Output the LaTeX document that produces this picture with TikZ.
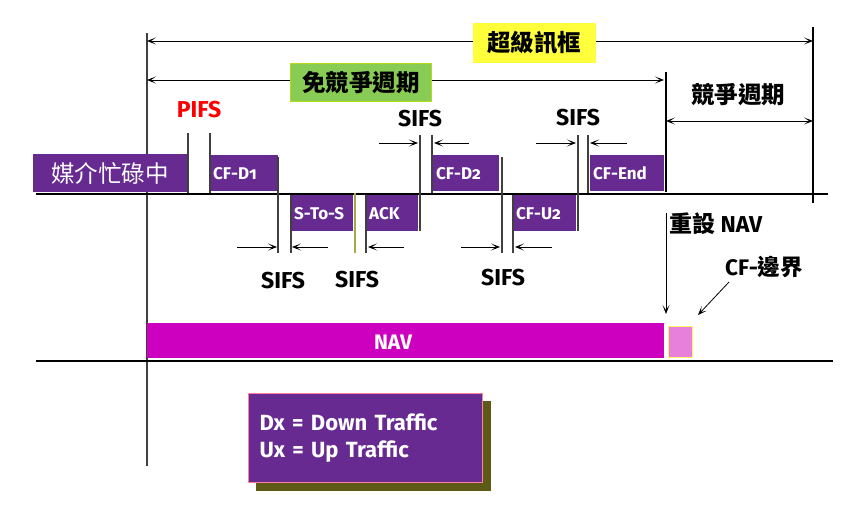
\documentclass[tikz,border=0pt]{standalone}
\usepackage{fontspec}
\setmainfont{Fira Sans}[Numbers=OldStyle]
\newfontfamily\cjk{Noto Sans CJK TC}
\usetikzlibrary{arrows.meta,positioning}
\definecolor{pkt}{RGB}{102,42,145}
\definecolor{nav}{RGB}{204,0,190}
\definecolor{cfb}{RGB}{230,128,218}
\definecolor{sfy}{RGB}{255,255,60}
\definecolor{cfg}{RGB}{136,204,85}
\definecolor{olv}{RGB}{168,168,72}
\definecolor{shd}{RGB}{92,90,22}
\definecolor{lgb}{RGB}{255,128,160}

\begin{document}
\begin{tikzpicture}[x=1pt,y=-1pt,>={Stealth[length=9pt,width=7pt,inset=5pt]},
  axis/.style={draw=black!75,line width=1.2pt},
  base/.style={draw=black,line width=1.4pt},
  gap/.style={->,line width=0.8pt},
  pkt/.style={fill=pkt,text=white,font=\bfseries\fontsize{17}{17}\selectfont,
    inner xsep=3pt,inner ysep=0pt,minimum height=36pt,anchor=north west,align=left},
  ifs/.style={font=\bfseries\fontsize{23}{23}\selectfont},
  zh/.style={font=\cjk\bfseries\fontsize{23.5}{23.5}\selectfont}]
\useasboundingbox (0,0) rectangle (863,524);

% main axes
\coordinate (o) at (147,33);   \coordinate (ob) at (147,466);
\coordinate (e) at (813,27);   \coordinate (eb) at (813,203);
\coordinate (c) at (666,72);   \coordinate (cb) at (666,192);
\coordinate (l) at (36,194);   \coordinate (r) at (828,194);
\coordinate (nl) at (36,361);  \coordinate (nr) at (833,361);
\draw[axis] (o) -- (ob);
\draw[axis,black] (e) -- (eb);
\draw[axis,black] (c) -- (cb);
\draw[base] (l) -- (r);
\draw[base] (nl) -- (nr);

% periods
\coordinate (sfa) at (147,41);  \coordinate (sfb) at (813,41);
\coordinate (cfa) at (147,80);  \coordinate (cfb) at (664,80);
\coordinate (cpa) at (666,121); \coordinate (cpb) at (813,121);
\draw[<->,line width=0.9pt] (sfa) -- (sfb);
\draw[<->,line width=0.9pt] (cfa) -- (cfb);
\draw[<->,line width=0.9pt] (cpa) -- (cpb);
\node[zh,fill=sfy,minimum width=123pt,minimum height=40pt] (sf) at (534,43) {超級訊框};
\node[zh,fill=cfg,draw=yellow!70!green,line width=1pt,minimum width=141pt,minimum height=38pt] (cfp) at (361,83) {免競爭週期};
\node[zh] (cp) at (738,95) {競爭週期};

% medium busy
\node[fill=pkt,text=white,font=\cjk\fontsize{23.5}{23.5}\selectfont,minimum width=154pt,
  minimum height=38pt,anchor=north west] (busy) at (33,154) {媒介忙碌中};

% frames
\foreach \n/\x/\y/\w/\t in {d1/210/155/62/CF-D1,d2/433/155/60/CF-D2,end/590/155/68/CF-End,
  sts/291/195/56/S-To-S,ack/366/195/46/ACK,u2/513/195/57/CF-U2}
  \node[pkt,text width=\w pt] (\n) at (\x,\y) {\t};

% interframe space ticks
\foreach \x/\a/\b in {188/133/193,210/133/193,278/157/253,291/195/253,366/195/253,
  420/135/231,432/135/193,502/157/253,513/195/253,578/135/231,588/135/193}
{
  \coordinate (t\x) at (\x,\a);
  \coordinate (b\x) at (\x,\b);
  \draw[axis] (t\x) -- (b\x);
}
\coordinate (t355) at (355,193); \coordinate (b355) at (355,253);
\draw[olv,line width=1.4pt] (t355) -- (b355);

\foreach \a/\b/\y [count=\i] in {237/277/247,328/292/247,404/368/247,461/500/247,552/515/247,
  379/418/143,469/434/143,536/576/143,627/590/143}
{
  \coordinate (s\i) at (\a,\y);
  \coordinate (f\i) at (\b,\y);
  \draw[gap] (s\i) -- (f\i);
}

\node[ifs,text=red] (pifs) at (199,110) {PIFS};
\foreach \n/\x/\y in {a/283/281,b/357/280,c/503/278,d/420/119,e/578/118}
  \node[ifs] (sifs\n) at (\x,\y) {SIFS};

% NAV
\node[fill=nav,minimum width=517pt,minimum height=35pt,inner sep=0pt,anchor=north west] (nav) at (147,323) {};
\node[text=white,font=\bfseries\fontsize{21}{21}\selectfont] (navt) at (393,342) {NAV};
\node[fill=cfb,draw=yellow!60,line width=1pt,minimum width=24pt,minimum height=31pt,
  inner sep=0pt,anchor=north west] (bnd) at (668,326) {};

\node[font=\bfseries\fontsize{23}{23}\selectfont,anchor=west,inner sep=0pt] (reset) at (669,224) {{\cjk 重設} NAV};
\coordinate (ra) at (666,213); \coordinate (rb) at (666,314);
\draw[->,line width=0.8pt] (ra) -- (rb);

\node[font=\bfseries\fontsize{22.5}{22.5}\selectfont] (edge) at (764,267) {CF-{\cjk 邊界}};
\coordinate (ea) at (729,282); \coordinate (eb2) at (698,315);
\draw[->,line width=0.8pt] (ea) -- (eb2);

% legend
\node[fill=shd,minimum width=235pt,minimum height=90pt,anchor=north west] (shadow) at (256,401) {};
\node[fill=pkt,draw=lgb,line width=1pt,text=white,font=\bfseries\fontsize{22}{27}\selectfont,
  minimum width=234pt,minimum height=89pt,text width=212pt,inner xsep=11pt,align=left,
  anchor=north west] (legend) at (248,393) {Dx = Down Traffic\\Ux = Up Traffic};

\end{tikzpicture}
\end{document}
